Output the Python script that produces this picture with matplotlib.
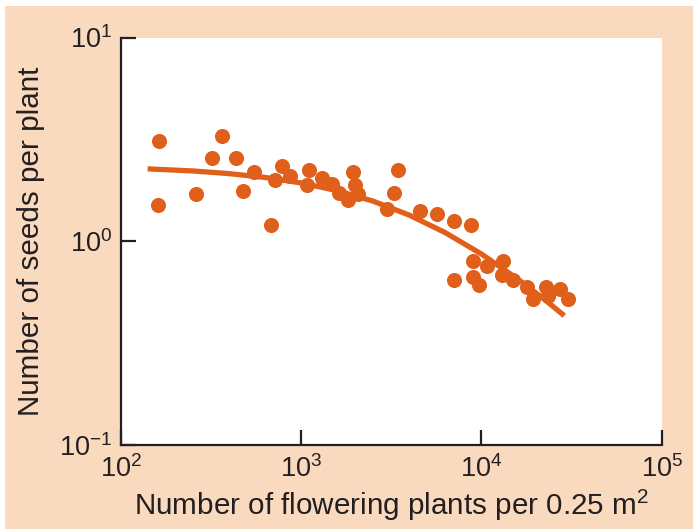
import matplotlib
matplotlib.use("Agg")
import matplotlib.pyplot as plt
from matplotlib.patches import Rectangle

plt.rcParams['font.family'] = ['Liberation Sans', 'DejaVu Sans']
plt.rcParams['mathtext.fontset'] = 'custom'
plt.rcParams['mathtext.rm'] = 'Liberation Sans'
plt.rcParams['mathtext.it'] = 'Liberation Sans:italic'
plt.rcParams['mathtext.bf'] = 'Liberation Sans:bold'

# Observed data: flowering plant density vs seeds per plant
density = [163, 160, 263, 320, 366, 436, 479, 551, 684, 718, 788, 866,
           1076, 1112, 1308, 1480, 1625, 1830, 1935, 2001, 2079,
           2988, 3293, 3439, 4588, 5680, 7085, 8769,
           9028, 10686, 13145, 7059, 8938, 9748, 13028, 14935,
           17815, 19280, 22850, 27150, 30070, 23440]
seeds = [3.12, 1.51, 1.71, 2.575, 3.30, 2.575, 1.763, 2.184, 1.20, 2.002, 2.353, 2.101,
         1.892, 2.234, 2.048, 1.914, 1.723, 1.585, 2.175, 1.892, 1.71,
         1.443, 1.723, 2.242, 1.40, 1.364, 1.26, 1.20,
         0.80, 0.754, 0.802, 0.642, 0.666, 0.612, 0.685, 0.642,
         0.594, 0.523, 0.598, 0.585, 0.521, 0.540]

# Fitted curve
curve_x = [141, 251, 398, 631, 1000, 1585, 2512, 3981, 6310, 10000, 15850, 22390, 28840]
curve_y = [2.266, 2.213, 2.148, 2.057, 1.933, 1.772, 1.573, 1.344, 1.102, 0.866, 0.654, 0.518, 0.431]

xticks = [1e2, 1e3, 1e4, 1e5]
xtick_labels = [r'$\mathdefault{10^{2}}$', r'$\mathdefault{10^{3}}$',
                r'$\mathdefault{10^{4}}$', r'$\mathdefault{10^{5}}$']
yticks = [1e-1, 1e0, 1e1]
ytick_labels = [r'$\mathdefault{10^{-1}}$', r'$\mathdefault{10^{0}}$', r'$\mathdefault{10^{1}}$']

orange = '#E0601B'
peach = '#F9DABE'
dark = '#231F20'

W, H = 693, 529
fig = plt.figure(figsize=(W / 100, H / 100), dpi=100, facecolor='white')
fig.patches.append(Rectangle((5 / W, 0), 1, 1 - 6 / H, transform=fig.transFigure,
                             facecolor=peach, edgecolor='none', zorder=-5))

ax = fig.add_axes([120.7 / W, 1 - 445 / H, (661.7 - 120.7) / W, (445 - 37.5) / H])
ax.set_zorder(1)
ax.set_facecolor('white')
ax.set_xscale('log')
ax.set_yscale('log')
ax.set_xlim(1e2, 1e5)
ax.set_ylim(1e-1, 1e1)

ax.plot(curve_x, curve_y, color=orange, lw=3.8, solid_capstyle='butt', zorder=2)
ax.scatter(density, seeds, s=118, color=orange, linewidths=0, zorder=3)

for s in ['top', 'right']:
    ax.spines[s].set_visible(False)
for s in ['left', 'bottom']:
    ax.spines[s].set_color(dark)
    ax.spines[s].set_linewidth(1.6)

ax.set_xticks(xticks)
ax.set_xticklabels(xtick_labels)
ax.set_yticks(yticks)
ax.set_yticklabels(ytick_labels)
ax.minorticks_off()
ax.tick_params(axis='both', which='major', direction='in', length=11, width=1.6,
               color=dark, labelcolor=dark, labelsize=19.5, pad=6)
ax.tick_params(axis='x', pad=7)

ax.set_xlabel('Number of flowering plants per 0.25 m$\\mathdefault{^{2}}$',
              fontsize=21.3, color=dark, labelpad=4)
ax.set_ylabel('Number of seeds per plant', fontsize=21.3, color=dark, labelpad=10)

fig.savefig('out.png', dpi=100, facecolor=fig.get_facecolor())
